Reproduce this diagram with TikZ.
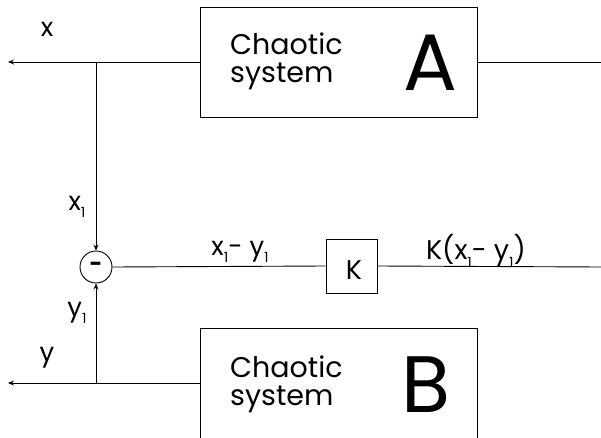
\documentclass[tikz,border=0pt]{standalone}
\usepackage{fontspec}
\setmainfont{Poppins}
\usetikzlibrary{arrows.meta}
\tikzset{
  wire/.style={line width=0.9pt},
  arr/.style={wire,-{Stealth[length=6pt,width=5pt]}},
  sysbox/.style={draw,line width=0.9pt,minimum width=277pt,minimum height=112pt,anchor=north west},
  lbl/.style={font=\fontsize{26}{26}\selectfont,inner sep=0pt},
  big/.style={font=\fontsize{80}{80}\selectfont,inner sep=0pt},
  sys/.style={font=\fontsize{28.5}{31}\selectfont,align=left,inner sep=0pt,anchor=north west},
}
\newcommand{\sbone}{\raisebox{-0.5ex}{\fontsize{14}{14}\selectfont 1}}
\begin{document}
\begin{tikzpicture}[x=1pt,y=-1pt]
\useasboundingbox (0,0) rectangle (601,438);
% system A
\node[sysbox,minimum height=110pt] (A) at (200,7) {};
\node[sys] (Atxt) at (230,33) {Chaotic\\[-3pt]system};
\node[big] (Aletter) at (430,63) {A};
% system B
\node[sysbox] (B) at (200,328) {};
\node[sys] (Btxt) at (230,356) {Chaotic\\[-3pt]system};
\node[big] (Bletter) at (426,385) {B};
% coordinates
\coordinate (xl) at (8,62);
\coordinate (xb) at (96,62);
\coordinate (xr) at (601,62);
\coordinate (yl) at (8,383);
\coordinate (yb) at (96,383);
% subtractor
\node[draw,circle,line width=0.9pt,minimum size=32pt,inner sep=0pt] (S) at (96,267) {\fontsize{22}{22}\selectfont\textbf{-}};
% gain
\node[draw,line width=0.9pt,minimum width=51pt,minimum height=54pt,inner sep=0pt] (K) at (351.5,266) {};
\node[font=\fontsize{27}{27}\selectfont,inner sep=0pt] (Ktxt) at (354,270) {K};
\coordinate (kr) at (601,267);
% wires
\draw[arr] (A.west |- xl) -- (xl);
\draw[wire] (A.east |- xr) -- (xr);
\draw[arr] (xb) -- (S.north);
\draw[arr] (B.west |- yl) -- (yl);
\draw[arr] (yb) -- (S.south);
\draw[wire] (S.east) -- (K.west);
\draw[wire] (K.east) -- (kr);
% labels
\node[lbl] (lx) at (47,29) {x};
\node[lbl] (lx1) at (77,207) {x\sbone};
\node[lbl] (ly1) at (77,313) {y\sbone};
\node[lbl] (ly) at (47,358) {y};
\node[lbl] (ldiff) at (240,252) {x\sbone- y\sbone};
\node[lbl,font=\fontsize{27}{27}\selectfont] (lkdiff) at (476,251) {K(x\sbone- y\sbone)};
\end{tikzpicture}
\end{document}
